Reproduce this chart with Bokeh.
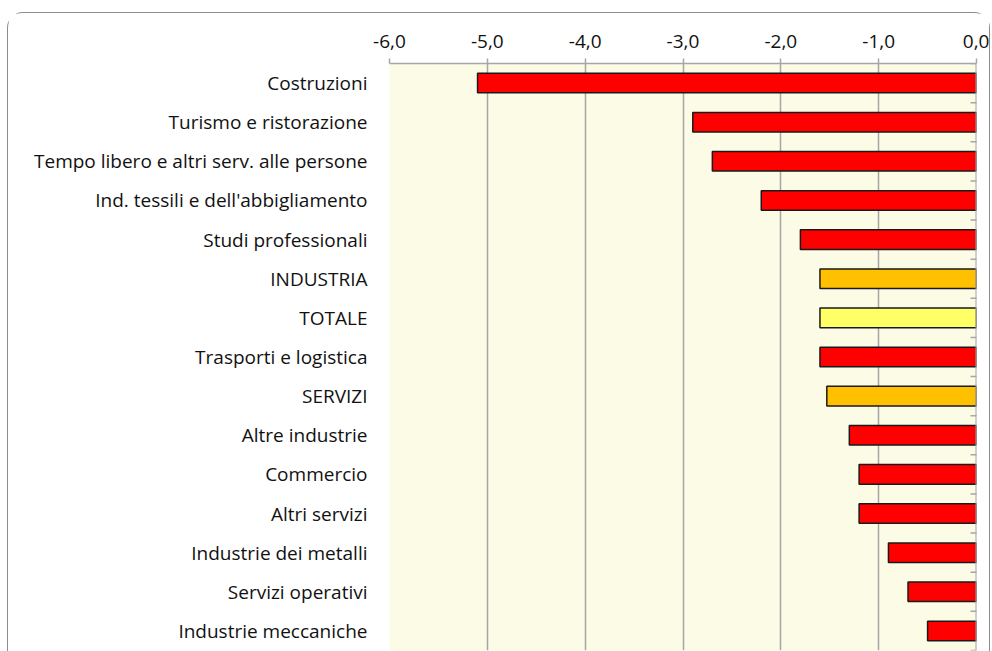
from bokeh.plotting import figure
from bokeh.models import Range1d, FixedTicker, ColumnDataSource, Span
from bokeh.embed import file_html
from bokeh.resources import INLINE

categories = ["Costruzioni", "Turismo e ristorazione", "Tempo libero e altri serv. alle persone",
              "Ind. tessili e dell'abbigliamento", "Studi professionali", "INDUSTRIA", "TOTALE",
              "Trasporti e logistica", "SERVIZI", "Altre industrie", "Commercio", "Altri servizi",
              "Industrie dei metalli", "Servizi operativi", "Industrie meccaniche"]
values = [-5.1, -2.9, -2.7, -2.2, -1.8, -1.6, -1.6, -1.6, -1.53, -1.3, -1.2, -1.2, -0.9, -0.7, -0.5]
groups = ["sector", "sector", "sector", "sector", "sector", "macro", "total", "sector", "macro",
          "sector", "sector", "sector", "sector", "sector", "sector"]
group_colors = {"sector": "#FF0000", "macro": "#FFC000", "total": "#FFFF66"}
tick_values = [-6, -5, -4, -3, -2, -1, 0]
tick_labels = ["-6,0", "-5,0", "-4,0", "-3,0", "-2,0", "-1,0", "0,0"]

FONT = "Open Sans"
GRID = "#A6A6A6"

n = len(categories)
ypos = [n - i - 0.5 for i in range(n)]  # row centres, first category on top
bounds = list(range(n + 1))             # category boundaries (tick marks on zero line)

src = ColumnDataSource(dict(y=ypos, val=values,
                            color=[group_colors[g] for g in groups]))

p = figure(width=983, height=639, output_backend="svg", toolbar_location=None,
           x_range=Range1d(-6, 0), y_range=Range1d(0, n),
           x_axis_location="above", y_axis_location="left",
           min_border_left=381, min_border_top=50,
           min_border_right=15, min_border_bottom=2)

p.hbar(y="y", left="val", right=0, height=0.5, fill_color="color",
       line_color="#1a1a1a", line_width=1.5, source=src)

# zero line with inward boundary ticks
p.add_layout(Span(location=0, dimension="height", line_color=GRID, line_width=2))
p.scatter(x=[0] * len(bounds), y=bounds, marker="dash", size=12,
          line_color=GRID, line_width=1.5)

p.background_fill_color = "#FBFBE6"
p.border_fill_color = "white"
p.outline_line_color = None
p.styles = {"border-top": "1.5px solid #8c8c8c", "border-left": "1.5px solid #8c8c8c",
            "border-right": "1.5px solid #8c8c8c",
            "border-top-left-radius": "16px", "border-top-right-radius": "16px",
            "margin-top": "12px", "margin-left": "7px"}

xa = p.xaxis[0]
xa.ticker = FixedTicker(ticks=tick_values)
xa.major_label_overrides = {v: l for v, l in zip(tick_values, tick_labels)}
xa.axis_line_color = GRID
xa.axis_line_width = 1.5
xa.major_tick_line_color = GRID
xa.major_tick_line_width = 1.5
xa.major_tick_out = 5
xa.major_tick_in = 0
xa.minor_tick_line_color = None
xa.major_label_text_font = FONT
xa.major_label_text_font_size = "19px"
xa.major_label_text_color = "#111111"
xa.major_label_standoff = 11

p.xgrid.ticker = FixedTicker(ticks=tick_values)
p.xgrid.grid_line_color = GRID
p.xgrid.grid_line_width = 1.5
p.ygrid.grid_line_color = None

ya = p.yaxis[0]
ya.ticker = FixedTicker(ticks=ypos)
ya.major_label_overrides = {y: c for y, c in zip(ypos, categories)}
ya.axis_line_color = None
ya.major_tick_line_color = None
ya.minor_tick_line_color = None
ya.major_label_text_font = FONT
ya.major_label_text_font_size = "19px"
ya.major_label_text_color = "#111111"
ya.major_label_standoff = 16

open("out.html", "w").write(file_html(p, INLINE))
